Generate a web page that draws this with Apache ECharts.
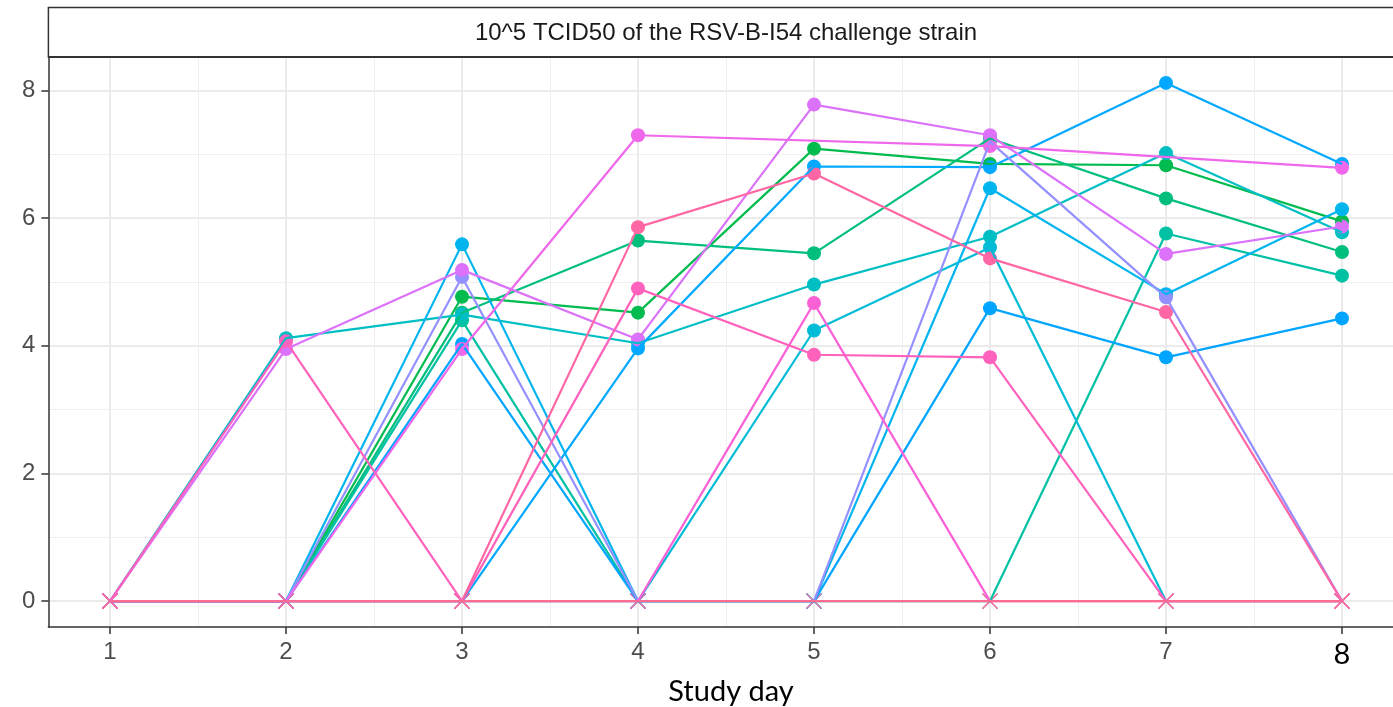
<!DOCTYPE html>
<html>
<head>
<meta charset="utf-8">
<script src="https://cdn.jsdelivr.net/npm/echarts@6/dist/echarts.min.js"></script>
<style>
html,body{margin:0;padding:0;background:#ffffff;}
#chart{width:1393px;height:707px;}
</style>
</head>
<body>
<div id="chart"></div>
<script>
// ---------- data ----------
const days = [1, 2, 3, 4, 5, 6, 7, 8];
const xMinorTicks = [1.5, 2.5, 3.5, 4.5, 5.5, 6.5, 7.5];
const yTicks = [0, 2, 4, 6, 8];
const yMinorTicks = [1, 3, 5, 7];
const stripTitle = '10^5 TCID50 of the RSV-B-I54 challenge strain';
const xTitle = 'Study day';

const subjects = ['S01','S02','S03','S04','S05','S06','S07','S08','S09','S10','S11','S12','S13','S14','S15'];
// viral load per study day (null = no sample that day)
const s01 = [0, 0, 4.77, 4.52, 7.09, 6.85, 6.83, 5.95];
const s02 = [0, 0, 4.52, 5.65, 5.45, 7.25, 6.31, 5.47];
const s03 = [0, 0, 4.40, 0, 0, 0, 5.76, 5.10];
const s04 = [0, 4.12, 4.49, 4.04, 4.96, 5.71, 7.02, 5.78];
const s05 = [0, 0, 0, 0, 4.24, 5.54, 0, 0];
const s06 = [0, 0, 5.59, 0, 0, 6.47, 4.81, 6.14];
const s07 = [0, 0, 0, 3.96, 6.81, 6.80, 8.12, 6.85];
const s08 = [0, 0, 4.03, 0, 0, 4.59, 3.82, 4.43];
const s09 = [0, 0, 5.08, 0, 0, 7.20, 4.76, 0];
const s10 = [0, 3.95, 5.19, 4.10, 7.78, 7.30, 5.44, 5.87];
const s11 = [0, 0, 3.95, 7.30, null, 7.13, null, 6.79];
const s12 = [0, 0, 0, 0, 4.67, 0, 0, 0];
const s13 = [0, 4.07, 0, 4.90, 3.86, 3.82, 0, 0];
const s14 = [0, 0, 0, 5.86, 6.70, 5.37, 4.53, 0];
const s15 = [0, 0, 0, 0, 0, 0, 0, 0];
const allValues = [s01, s02, s03, s04, s05, s06, s07, s08, s09, s10, s11, s12, s13, s14, s15];

const subjectColors = ['#00BB4E','#00BF7D','#00C1A3','#00BFC4','#00BCD6','#00B5EE','#00A9FF','#00A5FF',
                       '#9590FF','#DC71FA','#EF67EB','#FB61D7','#FF62BC','#FF66A4','#FF6C91'];

// ---------- chart ----------
const chart = echarts.init(document.getElementById('chart'), null, {renderer: 'canvas'});

const gridLeft = 48.4, gridTop = 57, gridWidth = 1355.2, gridHeight = 570;
const xMin = 0.65, xMax = 8.35, yMin = -0.406, yMax = 8.526;
const axisFont = "'Liberation Sans', Arial, sans-serif";
const crossPath = 'path://M0,0L10,10M10,0L0,10';

const lineSeries = [];
const pointSeries = [];
const crossSeries = [];
allValues.forEach((vals, k) => {
  const col = subjectColors[k];
  lineSeries.push({
    name: subjects[k], type: 'line', xAxisIndex: 0, yAxisIndex: 0,
    data: days.map((d, i) => [d, vals[i]]),
    connectNulls: true, showSymbol: false, symbol: 'none',
    lineStyle: {color: col, width: 2.2}, silent: true, animation: false
  });
  pointSeries.push({
    name: subjects[k], type: 'scatter', xAxisIndex: 0, yAxisIndex: 0,
    data: days.map((d, i) => [d, vals[i]]).filter(p => p[1] !== null && p[1] > 0),
    symbol: 'circle', symbolSize: 14,
    itemStyle: {color: col, opacity: 1}, silent: true, animation: false
  });
  crossSeries.push({
    name: subjects[k], type: 'scatter', xAxisIndex: 0, yAxisIndex: 0,
    data: days.map((d, i) => [d, vals[i]]).filter(p => p[1] === 0),
    symbol: crossPath, symbolSize: 15,
    itemStyle: {color: 'rgba(0,0,0,0)', borderColor: col, borderWidth: 1.2, opacity: 1},
    silent: true, animation: false
  });
});

const option = {
  backgroundColor: '#ffffff',
  animation: false,
  grid: {left: gridLeft, top: gridTop, width: gridWidth, height: gridHeight,
         containLabel: false, outerBoundsMode: 'none'},
  xAxis: [
    {
      type: 'value', min: xMin, max: xMax, position: 'bottom',
      name: xTitle, nameLocation: 'middle', nameGap: 50,
      nameTextStyle: {fontFamily: 'Lato, "Open Sans", sans-serif', fontSize: 29, color: '#000000', padding: [0, 0, 0, 10]},
      axisLine: {show: true, onZero: false, lineStyle: {color: '#333333', width: 1.5}},
      axisTick: {show: true, length: 7, customValues: days, lineStyle: {color: '#333333', width: 1.5}},
      axisLabel: {
        customValues: days, margin: 13, color: '#4D4D4D', fontSize: 24, fontFamily: axisFont,
        formatter: v => (v === 8 ? '{b|8}' : String(v)),
        rich: {b: {fontFamily: 'Lato, "Open Sans", sans-serif', fontSize: 29, color: '#000000'}}
      },
      splitLine: {show: true, lineStyle: {color: '#EBEBEB', width: 2}}
    },
    {
      type: 'value', min: xMin, max: xMax, position: 'top',
      axisLine: {show: false}, axisLabel: {show: false},
      axisTick: {show: false, customValues: xMinorTicks},
      splitLine: {show: true, lineStyle: {color: '#EFEFEF', width: 1}}
    }
  ],
  yAxis: [
    {
      type: 'value', min: yMin, max: yMax, position: 'left',
      axisLine: {show: true, onZero: false, lineStyle: {color: '#333333', width: 1.5}},
      axisTick: {show: true, length: 7, customValues: yTicks, lineStyle: {color: '#333333', width: 1.5}},
      axisLabel: {customValues: yTicks, margin: 13, color: '#4D4D4D', fontSize: 24, fontFamily: axisFont},
      splitLine: {show: true, lineStyle: {color: '#EBEBEB', width: 2}}
    },
    {
      type: 'value', min: yMin, max: yMax, position: 'right',
      axisLine: {show: false}, axisLabel: {show: false},
      axisTick: {show: false, customValues: yMinorTicks},
      splitLine: {show: true, lineStyle: {color: '#EFEFEF', width: 1}}
    }
  ],
  graphic: [
    {
      type: 'rect', z: 10,
      shape: {x: gridLeft, y: 7.5, width: gridWidth + 2, height: gridTop - 7.5},
      style: {fill: '#ffffff', stroke: '#333333', lineWidth: 1.5}
    },
    {
      type: 'line', z: 11,
      shape: {x1: gridLeft, y1: gridTop, x2: gridLeft + gridWidth + 2, y2: gridTop},
      style: {stroke: '#333333', lineWidth: 2}
    },
    {
      type: 'text', z: 12,
      x: gridLeft + gridWidth / 2, y: 33,
      style: {text: stripTitle, fill: '#1A1A1A', font: "24px 'Liberation Sans', Arial, sans-serif",
              textAlign: 'center', textVerticalAlign: 'middle'}
    }
  ],
  series: [].concat(lineSeries, pointSeries, crossSeries)
};

chart.setOption(option);
</script>
</body>
</html>
